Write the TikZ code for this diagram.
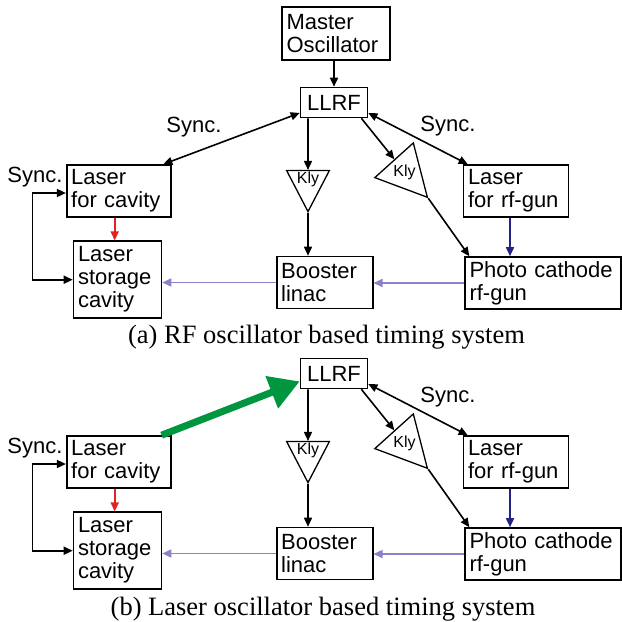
\documentclass[tikz,border=0pt]{standalone}
\usepackage{xcolor}
\usepackage{fontspec}
\setmainfont{Liberation Sans}
\newfontfamily\capfont{Liberation Serif}
\usetikzlibrary{shapes.geometric, arrows.meta, positioning, calc}

\definecolor{fasciolilla}{RGB}{140,130,200}
\definecolor{laserrosso}{RGB}{225,35,35}
\definecolor{cannoneblu}{RGB}{35,35,135}
\definecolor{frecciaverde}{RGB}{0,150,64}

\tikzset{
  blocco/.style={rectangle,draw=black,line width=1.6pt,align=left,inner xsep=4.5pt,inner ysep=0pt,font=\fontsize{22}{23}\selectfont},
  kly/.style={isosceles triangle,isosceles triangle apex angle=55,draw=black,line width=1.3pt,inner sep=1pt,minimum size=41pt,font=\fontsize{16}{16}\selectfont},
  freccia/.style={line width=1.6pt,-{Triangle[length=9pt,width=8pt]}},
  doppia/.style={line width=1.6pt,{Triangle[length=9pt,width=8pt]}-{Triangle[length=9pt,width=8pt]}},
  etichetta/.style={font=\fontsize{22}{23}\selectfont,inner sep=0pt},
  didascalia/.style={font=\capfont\fontsize{26.5}{28}\selectfont,anchor=base,inner sep=0pt}
}

\begin{document}
\begin{tikzpicture}[x=1pt,y=-1pt]
  \useasboundingbox (0,0) rectangle (622,622);

  % Parti comuni ai due schemi
  \foreach \p/\dy in {a/0,b/271} {
    \begin{scope}[shift={(0,\dy)}]
      % Blocchi
      \node[blocco,minimum width=67pt,minimum height=30pt] (llrf\p) at (334,102.5) {LLRF};
      \node[blocco,text width=95pt,minimum height=52pt] (lascav\p) at (118.7,191) {Laser\\for cavity};
      \node[blocco,text width=79pt,minimum height=77pt] (stor\p) at (117.5,279.7) {Laser\\storage\\cavity};
      \node[blocco,text width=96pt,minimum height=52pt] (lasgun\p) at (516,191) {Laser\\for rf-gun};
      \node[blocco,text width=87pt,minimum height=52pt] (boost\p) at (324.7,282.5) {Booster\\linac};
      \node[blocco,text width=147pt,minimum height=52pt] (pc\p) at (543,283) {Photo cathode\\rf-gun};

      % Klystron
      \node[kly,shape border rotate=-90,anchor=apex] (klya\p) at (308,213) {Kly};
      \node[kly,shape border uses incircle,shape border rotate=-48,inner sep=0pt,minimum size=27pt,anchor=apex] (klyb\p) at (428.3,198.3) {Kly};

      % Frecce
      \draw[doppia] (llrf\p.-17) -- (lasgun\p.151);
      \draw[freccia] (klya\p.apex |- llrf\p.south) -- (klya\p);
      \draw[freccia] (llrf\p.-30) -- (klyb\p);
      \draw[freccia] (klya\p.apex) -- (klya\p.apex |- boost\p.north);
      \draw[freccia] (klyb\p.apex) -- (pc\p.160);
      \draw[freccia,cannoneblu] ([xshift=-6pt]lasgun\p.south) -- ([xshift=-6pt]lasgun\p.south |- pc\p.north);
      \draw[freccia,laserrosso] ([xshift=-4pt]lascav\p.south) -- ([xshift=-4pt]lascav\p.south |- stor\p.north);
      \draw[freccia,fasciolilla] (pc\p.west) -- (pc\p.west -| boost\p.east);
      \draw[freccia,fasciolilla] (boost\p.west) -- (boost\p.west -| stor\p.east);
      \draw[doppia] ([yshift=-2pt]lascav\p.west) -- ++(-33.4,0) |- (stor\p.west);

      % Etichette
      \node[etichetta] (syncdx\p) at (448,126) {Sync.};
      \node[etichetta] (syncsx\p) at (35,177) {Sync.};
    \end{scope}
  }

  % Schema (a): oscillatore RF
  \node[blocco,text width=99pt,minimum height=53pt] (mo) at (336,33.6) {Master\\Oscillator};
  \draw[freccia] (llrfa.north |- mo.south) -- (llrfa.north);
  \draw[doppia] (llrfa.197) -- (lascava.31);
  \node[etichetta] (syncsu) at (194,127) {Sync.};
  \node[didascalia] (capa) at (326.5,343) {(a) RF oscillator based timing system};

  % Schema (b): oscillatore laser
  \draw[line width=7pt,frecciaverde,-{Triangle[length=30pt,width=33pt]}] (lascavb.32) -- (llrfb.193);
  \node[didascalia] (capb) at (323,615) {(b) Laser oscillator based timing system};
\end{tikzpicture}
\end{document}
